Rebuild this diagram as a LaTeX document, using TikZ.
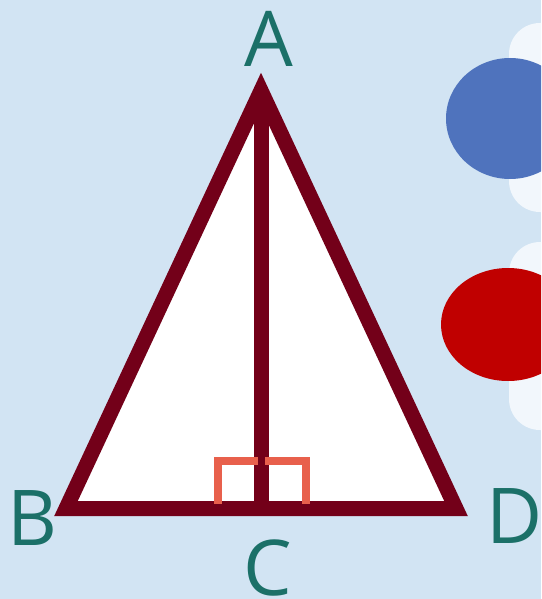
\documentclass[tikz,border=0pt]{standalone}
\usepackage{fontspec}
\setmainfont{Open Sans}
\usepackage{tikz}
\usetikzlibrary{positioning, calc}

\definecolor{paper}{HTML}{D2E4F3}
\definecolor{pale}{HTML}{F2F7FC}
\definecolor{edge}{HTML}{730019}
\definecolor{mark}{HTML}{E8604C}
\definecolor{letter}{HTML}{1B7068}
\definecolor{bluedisk}{HTML}{4F73BD}
\definecolor{reddisk}{HTML}{C00000}

\begin{document}
\begin{tikzpicture}[
  x=1pt, y=-1pt,
  side/.style={draw=edge, line width=15pt, line join=miter},
  rightmark/.style={draw=mark, line width=7.7pt, line join=miter},
  vlabel/.style={text=letter, inner sep=0pt, font=\fontsize{77}{80}\selectfont},
  tab/.style={fill=pale, rounded corners=31pt}
]
\fill[paper] (0,0) rectangle (541,599);
\clip (0,0) rectangle (541,599);

% side tabs and disks
\fill[tab] (509,23) rectangle (580,212);
\fill[tab] (509,242) rectangle (580,430);
\fill[bluedisk] (510,118.5) ellipse [x radius=64pt, y radius=60.5pt];
\fill[reddisk] (508,324.5) ellipse [x radius=67pt, y radius=56.5pt];

% triangle
\coordinate (A) at (261,90.5);
\coordinate (B) at (66,508.5);
\coordinate (D) at (456,508.5);
\coordinate (C) at (261,508.5);
\fill[white] (A) -- (B) -- (D) -- cycle;
\draw[side] (A) -- (B) -- (D) -- cycle;
\draw[side] (A) -- (C);

% right angle marks
\draw[rightmark] (217.8,504) -- (217.8,461.3) -- (258,461.3);
\draw[rightmark] (265,461.3) -- (306.2,461.3) -- (306.2,504);

% labels
\node[vlabel] (labA) at (268.5,38.5) {A};
\node[vlabel] (labB) at (32.5,518) {B};
\node[vlabel] (labC) at (267.5,568) {C};
\node[vlabel] (labD) at (515,516.5) {D};
\end{tikzpicture}
\end{document}
